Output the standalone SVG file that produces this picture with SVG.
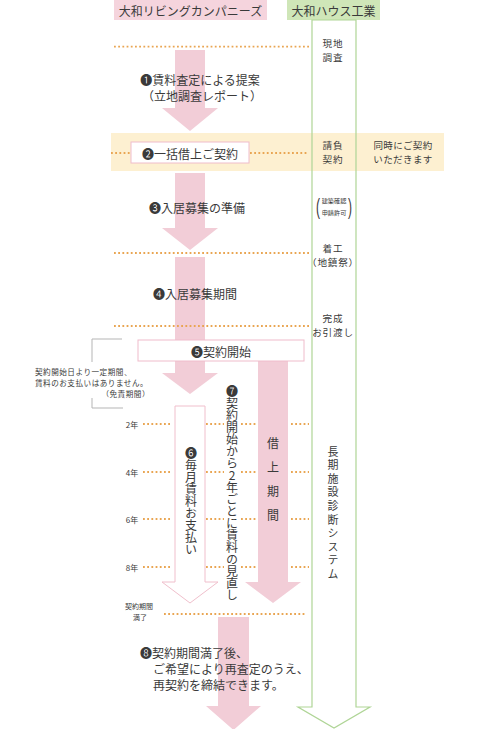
<svg xmlns="http://www.w3.org/2000/svg" width="480" height="729" viewBox="0 0 480 729">
<style>
text{font-family:"Noto Sans CJK JP","Noto Sans",sans-serif;fill:#3a3a3a;dominant-baseline:central}
.c{text-anchor:middle}
.f12{font-size:12px}
.f10{font-size:9.6px;letter-spacing:0.8px}
.f8{font-size:7.6px;letter-spacing:0.5px}
.f7{font-size:7px}
.dot{stroke:#e9a552;stroke-width:1.8;stroke-dasharray:1.8 2.4;fill:none}
.pk{fill:#f2cdd7}
.pko{fill:#fff;stroke:#f0bfcc;stroke-width:1}
.box{fill:#fff;stroke:#efbccb;stroke-width:1}
.gr{fill:none;stroke:#afd596;stroke-width:1.2}
.v{writing-mode:vertical-rl;text-orientation:upright}
</style>
<rect x="0" y="0" width="480" height="729" fill="#fff"/>
<!-- headers -->
<g id="header-left"><rect x="114" y="0" width="153" height="20" fill="#f5d4dd"/><text class="c f12" x="190.5" y="10">大和リビングカンパニーズ</text></g>
<g id="header-right"><rect x="287" y="0" width="93" height="20" fill="#cfe6b8"/><text class="c f12" x="333.5" y="10">大和ハウス工業</text></g>
<!-- band -->
<rect x="111" y="133" width="333" height="38" fill="#fdf0d1"/>
<!-- arrows -->
<g id="connectors">
<polygon class="pk" points="175,50 205,50 205,108 218,108 190,131 162,108 175,108"/>
<polygon class="pk" points="175,173 205,173 205,228 218,228 190,250 162,228 175,228"/>
<polygon class="pk" points="175,257 205,257 205,373 218,373 190,394 162,373 175,373"/>
<polygon class="pk" points="258,361 288,361 288,582 301,582 273,603 245,582 258,582"/>
<polygon class="pko" points="175,406 205,406 205,582 218,582 190,603 162,582 175,582"/>
<polygon class="pk" points="218,617 249,617 249,706 261,706 233.5,730 206,706 218,706"/>
<polygon class="gr" points="312,20 312,707 298,707 334,728 370,707 356,707 356,20" fill="#fff"/>
<path class="dot" d="M114,46.7H310M111,153H131M250,153H308M114,253H309M114,326H309M164,614H306"/>
<path class="dot" d="M143,424H172M206,424H224M241,424H257M291,424H309M143,472H172M206,472H224M241,472H257M291,472H309M143,519H172M206,519H224M241,519H257M291,519H309M143,567H172M206,567H224M241,567H257M291,567H309"/>
<path d="M122,339H92V362M92,398V408H123" fill="none" stroke="#b5b5b5" stroke-width="1"/>
</g>
<!-- nodes -->
<g id="step1"><text class="c f12" x="200" y="79">❶賃料査定による提案</text><text class="c f12" x="202" y="95">（立地調査レポート）</text></g>
<g id="step2"><rect class="box" x="131" y="142" width="118" height="21"/><text class="c f12" x="190" y="153">❷一括借上ご契約</text></g>
<g id="step3"><text class="c f12" x="197" y="207">❸入居募集の準備</text></g>
<g id="step4"><text class="c f12" x="195" y="293">❹入居募集期間</text></g>
<g id="step5"><rect class="box" x="138" y="340" width="166" height="21"/><text class="c f12" x="221" y="351">❺契約開始</text></g>
<g id="step6"><text class="f12 v" x="191" y="447">❻毎月賃料お支払い</text></g>
<g id="step7"><text class="f12 v" x="232" y="385">❼契約開始から2年ごとに賃料の見直し</text></g>
<g id="step8"><text class="f12" x="140" y="652">❽契約期間満了後、</text><text class="f12" x="153" y="668">ご希望により再査定のうえ、</text><text class="f12" x="153" y="684">再契約を締結できます。</text></g>
<g id="lease"><text class="f12 v" x="273" y="437" style="letter-spacing:12px">借上期間</text></g>
<g id="diag"><text class="v" x="333" y="446" style="font-size:11px;letter-spacing:2.6px">長期施設診断システム</text></g>
<g id="free"><text class="f8" x="35" y="371">契約開始日より一定期間、</text><text class="f8" x="35" y="382">賃料のお支払いはありません。</text><text class="f8" x="150" y="393" style="text-anchor:end">（免責期間）</text></g>
<g id="years"><text class="c f7" x="132" y="424" style="font-size:8px">2年</text><text class="c f7" x="132" y="472" style="font-size:8px">4年</text><text class="c f7" x="132" y="519" style="font-size:8px">6年</text><text class="c f7" x="132" y="567" style="font-size:8px">8年</text></g>
<g id="end"><text class="c f7" x="139" y="606">契約期間</text><text class="c f7" x="140" y="617">満了</text></g>
<g id="dh-survey"><text class="c f10" x="333" y="42.5">現地</text><text class="c f10" x="333" y="56.5">調査</text></g>
<g id="dh-contract"><text class="c f10" x="333" y="144.5">請負</text><text class="c f10" x="333" y="158.5">契約</text><text class="c" x="403" y="144.5" style="font-size:9.5px;letter-spacing:0.4px">同時にご契約</text><text class="c" x="403" y="158.5" style="font-size:9.5px;letter-spacing:0.4px">いただきます</text></g>
<g id="dh-permit"><text class="c" x="334" y="200" style="font-size:6.2px">建築確認</text><text class="c" x="334" y="212" style="font-size:6.2px">申請許可</text><text transform="translate(318,206) scale(1,1.9)" class="c" style="font-family:'Liberation Sans',sans-serif;font-size:12px">(</text><text transform="translate(350,206) scale(1,1.9)" class="c" style="font-family:'Liberation Sans',sans-serif;font-size:12px">)</text></g>
<g id="dh-start"><text class="c f10" x="333" y="247.5">着工</text><text class="c f10" x="333" y="261.5">（地鎮祭）</text></g>
<g id="dh-done"><text class="c f10" x="333" y="317.5">完成</text><text class="c f10" x="333" y="331.5">お引渡し</text></g>
</svg>
